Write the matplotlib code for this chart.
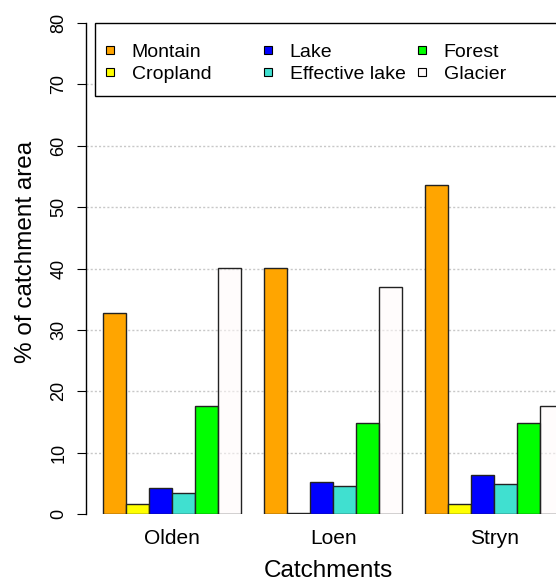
import numpy as np
import matplotlib
matplotlib.use("Agg")
import matplotlib.pyplot as plt
from matplotlib.legend import Legend
from matplotlib.lines import Line2D
from matplotlib.patches import Rectangle

plt.rcParams['font.family'] = ['Liberation Sans', 'DejaVu Sans']

catchments = ['Olden', 'Loen', 'Stryn']
landcover = ['Montain', 'Cropland', 'Lake', 'Effective lake', 'Forest', 'Glacier']
montain = [32.8, 40.1, 53.6]
cropland = [1.7, 0.2, 1.6]
lake = [4.3, 5.2, 6.3]
effective_lake = [3.4, 4.6, 4.9]
forest = [17.6, 14.8, 14.8]
glacier = [40.1, 37.0, 17.6]
yticks = [0, 10, 20, 30, 40, 50, 60, 70, 80]

series = [montain, cropland, lake, effective_lake, forest, glacier]
colors = ['#FFA500', '#FFFF00', '#0000FF', '#40E0D0', '#00FF00', (1.0, 0.98, 0.98, 0.55)]
legend_colors = ['#FFA500', '#FFFF00', '#0000FF', '#40E0D0', '#00FF00', '#FFFAFA']

fig = plt.figure(figsize=(5.56, 5.82), dpi=100)
ax = fig.add_axes([86 / 556, 68 / 582, 495.65 / 556, 491 / 582])

# grouped bars, one empty slot between catchments
group_start = np.arange(len(catchments)) * (len(landcover) + 1) + 1
for j, vals in enumerate(series):
    ax.bar(group_start + j, vals, width=1, align='edge', color=colors[j],
           edgecolor='#222222', linewidth=1.0, zorder=2)

for y in yticks[1:-1]:
    ax.axhline(y, color='#c8c8c8', lw=1.0, linestyle=(0, (1.5, 1.5)), zorder=0)

ax.set_xlim(0.25, 21.8)
ax.set_ylim(0, 80)
ax.set_yticks(yticks)
ax.set_xticks(group_start + len(landcover) / 2)
ax.set_xticklabels(catchments, fontsize=15)
ax.tick_params(axis='x', length=0, pad=11)
ax.tick_params(axis='y', labelrotation=90, labelsize=13, length=6.5, width=0.8, pad=6.8)
for lbl in ax.get_yticklabels():
    lbl.set_va('center')

for s in ['top', 'right', 'bottom']:
    ax.spines[s].set_visible(False)
ax.spines['left'].set_linewidth(1.0)

ax.set_xlabel('Catchments', fontsize=17.5, va='top')
ax.xaxis.set_label_coords(0.490, -0.0930)
ax.set_ylabel('% of catchment area', fontsize=17.5)
ax.yaxis.set_label_coords(-0.099, 0.5346)

# legend box with three columns
ax.add_patch(Rectangle((0.0182, 0.8513), 0.98, 1 - 0.8513, transform=ax.transAxes,
                       facecolor='white', edgecolor='black', lw=1.0,
                       clip_on=False, zorder=3))
col_x = [0.0327, 0.3515, 0.6622]
for c in range(3):
    handles = [Line2D([], [], ls='none', marker='s', ms=6, mfc=legend_colors[k],
                      mec='black', mew=0.8) for k in (2 * c, 2 * c + 1)]
    leg = Legend(ax, handles, landcover[2 * c:2 * c + 2], loc='upper left',
                 bbox_to_anchor=(col_x[c], 0.959), frameon=False,
                 borderpad=0, borderaxespad=0, handlelength=0.8,
                 handletextpad=0.72, labelspacing=0.25, fontsize=14)
    leg.set_zorder(4)
    ax.add_artist(leg)

fig.savefig('out.png', dpi=100)
